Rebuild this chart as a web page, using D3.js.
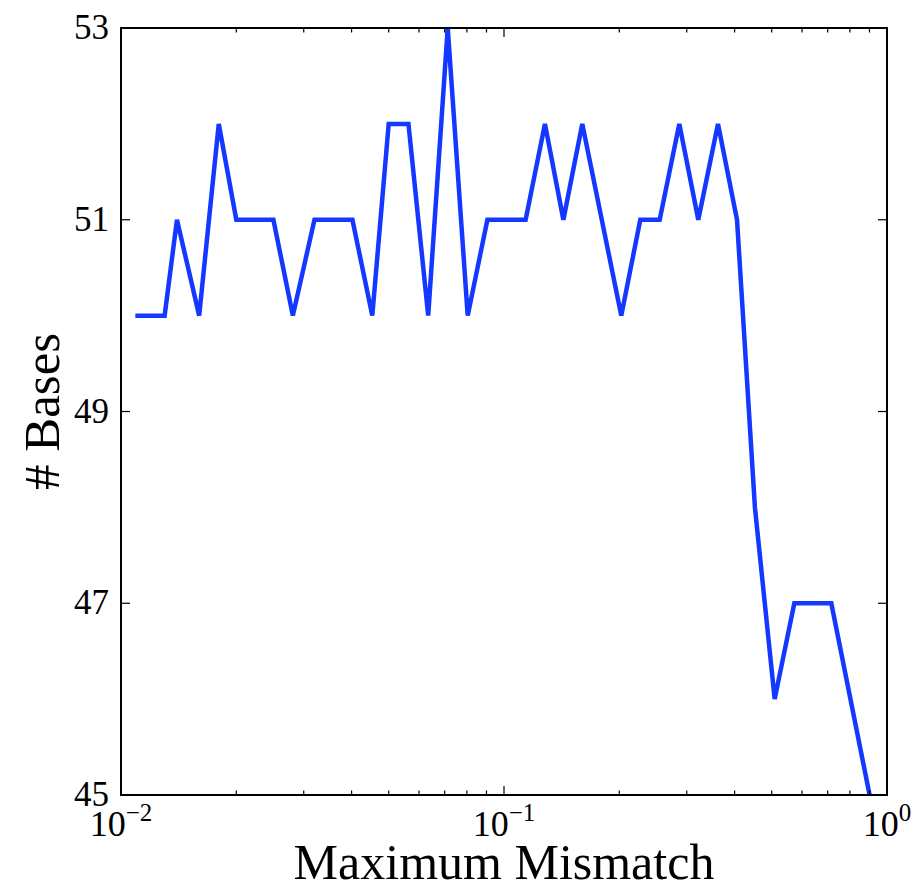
<!DOCTYPE html>
<html>
<head>
<meta charset="utf-8">
<script src="https://cdn.jsdelivr.net/npm/d3@7"></script>
<style>
  body { margin: 0; background: #fff; }
  text { font-family: "Liberation Serif", "DejaVu Serif", serif; fill: #000; }
</style>
</head>
<body>
<svg id="chart" width="913" height="888"></svg>
<script>
// values
var mismatch = [0.0109, 0.0130, 0.0140, 0.0160, 0.0180, 0.0200, 0.0250, 0.0281, 0.0320,
    0.0402, 0.0453, 0.0500, 0.0563, 0.0634, 0.0713, 0.0804, 0.0905, 0.1139, 0.1279,
    0.1429, 0.1601, 0.2024, 0.2269, 0.2550, 0.2869, 0.3216, 0.3620, 0.4059, 0.4520,
    0.5090, 0.5728, 0.7155, 0.9007];
var bases = [50, 50, 51, 50, 52, 51, 51, 50, 51,
    51, 50, 52, 52, 50, 53, 50, 51, 51, 52,
    51, 52, 50, 51, 51, 52, 51, 52, 51, 48,
    46, 47, 47, 45];
var yTicks = [45, 47, 49, 51, 53];
var xMajor = [0.01, 0.1, 1];
var xLabels = ["\u22122", "\u22121", "0"];

var svg = d3.select("#chart"),
    margin = {top: 28, right: 26, bottom: 93, left: 121},
    width = +svg.attr("width") - margin.left - margin.right,
    height = +svg.attr("height") - margin.top - margin.bottom,
    g = svg.append("g").attr("transform", "translate(" + margin.left + "," + margin.top + ")");

var x = d3.scaleLog().domain([0.01, 1]).range([0, width]),
    y = d3.scaleLinear().domain([45, 53]).range([height, 0]);

var xMinor = [];
[0.01, 0.1].forEach(function (d) {
    for (var k = 2; k <= 9; k++) xMinor.push(d * k);
});

var line = d3.line()
    .x(function (d, i) { return x(mismatch[i]); })
    .y(function (d) { return y(d); });

g.append("path")
    .datum(bases)
    .attr("d", line)
    .attr("fill", "none")
    .attr("stroke", "#1438ff")
    .attr("stroke-width", 4.5)
    .attr("stroke-linejoin", "miter");

// ticks pointing inward on all four sides
function tickLines(sel, data, len, side) {
    sel.selectAll(null).data(data).enter().append("line")
        .attr("x1", function (d) { return side === "bottom" || side === "top" ? x(d) : (side === "left" ? 0 : width); })
        .attr("x2", function (d) { return side === "bottom" || side === "top" ? x(d) : (side === "left" ? len : width - len); })
        .attr("y1", function (d) { return side === "bottom" ? height : (side === "top" ? 0 : y(d)); })
        .attr("y2", function (d) { return side === "bottom" ? height - len : (side === "top" ? len : y(d)); })
        .attr("stroke", "#000")
        .attr("stroke-width", 1.2);
}
var ticks = g.append("g");
tickLines(ticks, xMajor, 9, "bottom");
tickLines(ticks, xMajor, 9, "top");
tickLines(ticks, xMinor, 4.5, "bottom");
tickLines(ticks, xMinor, 4.5, "top");
tickLines(ticks, yTicks, 9, "left");
tickLines(ticks, yTicks, 9, "right");

g.append("rect")
    .attr("width", width)
    .attr("height", height)
    .attr("fill", "none")
    .attr("stroke", "#000")
    .attr("stroke-width", 2);

g.selectAll(".ylab").data(yTicks).enter().append("text")
    .attr("class", "ylab")
    .attr("x", -12)
    .attr("y", function (d) { return y(d); })
    .attr("dy", "0.32em")
    .attr("text-anchor", "end")
    .style("font-size", "35px")
    .text(function (d) { return d; });

var xl = g.selectAll(".xlab").data(xMajor).enter().append("text")
    .attr("class", "xlab")
    .attr("x", function (d) { return x(d); })
    .attr("y", height + 41)
    .attr("text-anchor", "middle")
    .style("font-size", "36px");
xl.append("tspan").text("10");
xl.append("tspan")
    .attr("dy", -15)
    .style("font-size", "25px")
    .text(function (d, i) { return xLabels[i]; });

g.append("text")
    .attr("x", width / 2)
    .attr("y", height + 84)
    .attr("text-anchor", "middle")
    .style("font-size", "50px")
    .text("Maximum Mismatch");

g.append("text")
    .attr("transform", "translate(" + (-62) + "," + (height / 2) + ") rotate(-90)")
    .attr("text-anchor", "middle")
    .style("font-size", "51px")
    .text("# Bases");
</script>
</body>
</html>
